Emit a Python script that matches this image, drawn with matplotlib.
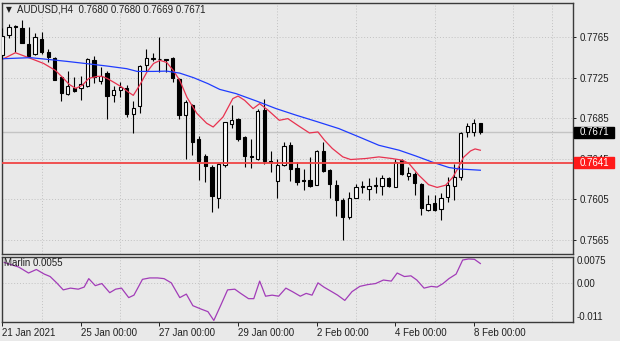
import numpy as np
import matplotlib.pyplot as plt
from matplotlib.patches import Rectangle

plt.rcParams['font.family'] = ['Liberation Sans', 'DejaVu Sans']
plt.rcParams['font.size'] = 7

# AUDUSD H4 candles, 21 Jan 2021 00:00 .. 8 Feb 2021 04:00
opens = [0.7748, 0.7767, 0.7776, 0.7774, 0.7759, 0.7749, 0.7763, 0.7751, 0.7745, 0.7726,
         0.7709, 0.7715, 0.7715, 0.7717, 0.7743, 0.7722, 0.7730, 0.7708, 0.7713, 0.7715,
         0.7689, 0.7697, 0.7738, 0.7744, 0.7744, 0.7744, 0.7745, 0.7724, 0.7688, 0.7698,
         0.7665, 0.7648, 0.7637, 0.7606, 0.7639, 0.7679, 0.7684, 0.7666, 0.7648, 0.7645,
         0.7693, 0.7643, 0.7623, 0.7639, 0.7659, 0.7636, 0.7624, 0.7624, 0.7619, 0.7653,
         0.7634, 0.7619, 0.7604, 0.7587, 0.7606, 0.7617, 0.7615, 0.7618, 0.7618, 0.7626,
         0.7617, 0.7644, 0.7628, 0.7630, 0.7620, 0.7594, 0.7601, 0.7595, 0.7607, 0.7618,
         0.7627, 0.7671, 0.7671, 0.7680]
highs = [0.7774, 0.7778, 0.7777, 0.7782, 0.7775, 0.7769, 0.7770, 0.7754, 0.7746, 0.7726,
         0.7732, 0.7726, 0.7727, 0.7745, 0.7747, 0.7736, 0.7732, 0.7717, 0.7721, 0.7718,
         0.7702, 0.7738, 0.7754, 0.7750, 0.7765, 0.7744, 0.7746, 0.7725, 0.7703, 0.7699,
         0.7667, 0.7650, 0.7639, 0.7641, 0.7681, 0.7698, 0.7685, 0.7667, 0.7665, 0.7694,
         0.7704, 0.7653, 0.7645, 0.7662, 0.7662, 0.7642, 0.7635, 0.7647, 0.7654, 0.7662,
         0.7635, 0.7624, 0.7606, 0.7612, 0.7620, 0.7623, 0.7626, 0.7627, 0.7629, 0.7627,
         0.7645, 0.7645, 0.7637, 0.7632, 0.7621, 0.7609, 0.7609, 0.7611, 0.7627, 0.7640,
         0.7671, 0.7680, 0.7684, 0.7680]
lows = [0.7744, 0.7764, 0.7751, 0.7760, 0.7746, 0.7748, 0.7749, 0.7741, 0.7723, 0.7702,
        0.7708, 0.7711, 0.7703, 0.7716, 0.7720, 0.7719, 0.7684, 0.7701, 0.7706, 0.7686,
        0.7670, 0.7690, 0.7732, 0.7742, 0.7731, 0.7731, 0.7721, 0.7684, 0.7645, 0.7649,
        0.7624, 0.7622, 0.7592, 0.7596, 0.7637, 0.7675, 0.7663, 0.7637, 0.7636, 0.7644,
        0.7640, 0.7632, 0.7606, 0.7638, 0.7623, 0.7619, 0.7614, 0.7617, 0.7619, 0.7632,
        0.7606, 0.7588, 0.7565, 0.7585, 0.7606, 0.7611, 0.7604, 0.7611, 0.7609, 0.7617,
        0.7617, 0.7629, 0.7624, 0.7609, 0.7589, 0.7593, 0.7593, 0.7584, 0.7602, 0.7604,
        0.7624, 0.7666, 0.7667, 0.7669]
closes = [0.7766, 0.7775, 0.7775, 0.7760, 0.7747, 0.7765, 0.7751, 0.7746, 0.7723, 0.7710,
          0.7717, 0.7712, 0.7719, 0.7744, 0.7726, 0.7727, 0.7707, 0.7713, 0.7716, 0.7689,
          0.7695, 0.7737, 0.7745, 0.7745, 0.7744, 0.7743, 0.7725, 0.7688, 0.7701, 0.7662,
          0.7643, 0.7638, 0.7608, 0.7640, 0.7681, 0.7683, 0.7665, 0.7648, 0.7647, 0.7692,
          0.7643, 0.7642, 0.7639, 0.7658, 0.7635, 0.7622, 0.7623, 0.7618, 0.7653, 0.7633,
          0.7620, 0.7604, 0.7587, 0.7606, 0.7617, 0.7618, 0.7618, 0.7619, 0.7626, 0.7618,
          0.7642, 0.7630, 0.7631, 0.7621, 0.7596, 0.7600, 0.7594, 0.7606, 0.7619, 0.7627,
          0.7670, 0.7677, 0.7680, 0.7671]

# moving averages (bar position, price)
ma_fast_bar = [0.2, 2.0, 4.3, 6.3, 8.1, 9.2, 10.2, 11.2, 12.2, 13.2, 14.5, 15.2, 16.0, 17.3,
               18.3, 19.3, 20.0, 21.0, 22.1, 23.1, 24.1, 25.1, 26.1, 27.1, 28.2, 29.7, 31.2,
               32.2, 33.7, 35.2, 36.0, 37.0, 38.3, 39.3, 40.6, 42.3, 43.6, 45.1, 46.9, 48.2,
               49.2, 50.4, 52.0, 53.2, 55.5, 57.5, 59.5, 61.1, 62.1, 63.6, 65.1, 66.4, 67.7,
               68.8, 69.7, 70.4, 71.5, 72.2, 73.0]
ma_fast_val = [0.77440, 0.77499, 0.77443, 0.77393, 0.77324, 0.77255, 0.77186, 0.77146,
               0.77176, 0.77245, 0.77265, 0.77265, 0.77245, 0.77196, 0.77156, 0.77107,
               0.77077, 0.77180, 0.77310, 0.77393, 0.77423, 0.77403, 0.77324, 0.77225,
               0.77057, 0.76899, 0.76801, 0.76764, 0.76863, 0.77045, 0.77070, 0.77028,
               0.76946, 0.76995, 0.76929, 0.76830, 0.76847, 0.76781, 0.76705, 0.76715,
               0.76633, 0.76551, 0.76468, 0.76442, 0.76452, 0.76468, 0.76452, 0.76435,
               0.76403, 0.76287, 0.76193, 0.76166, 0.76188, 0.76267, 0.76369, 0.76462,
               0.76527, 0.76547, 0.76534]
ma_slow_bar = [0.2, 4.3, 7.4, 9.9, 13.0, 16.0, 19.0, 20.6, 23.1, 25.1, 27.1, 29.2, 31.4, 33.2,
               35.7, 38.8, 41.8, 44.9, 47.9, 51.4, 54.5, 57.5, 60.6, 63.1, 65.6, 68.2, 69.7,
               73.0]
ma_slow_val = [0.77440, 0.77450, 0.77430, 0.77413, 0.77390, 0.77367, 0.77341, 0.77314,
               0.77314, 0.77317, 0.77297, 0.77252, 0.77193, 0.77136, 0.77094, 0.77021,
               0.76946, 0.76880, 0.76820, 0.76748, 0.76665, 0.76583, 0.76534, 0.76478,
               0.76418, 0.76363, 0.76349, 0.76336]

# Marlin oscillator
marlin_bar = [0.3, 2.5, 4.0, 5.2, 6.4, 7.3, 8.3, 9.3, 10.4, 11.6, 12.5, 13.2, 14.2, 15.2,
              16.4, 17.3, 18.2, 19.3, 20.1, 21.4, 22.5, 23.7, 24.7, 25.8, 27.1, 28.1, 29.1,
              30.4, 31.4, 32.3, 33.4, 34.4, 35.5, 36.4, 37.6, 38.4, 39.3, 40.2, 41.2, 42.2,
              43.3, 44.3, 45.5, 46.4, 47.3, 48.2, 49.1, 50.3, 51.2, 52.3, 53.4, 54.6, 55.8,
              57.0, 58.2, 59.4, 60.3, 61.4, 62.4, 63.3, 64.4, 65.5, 66.4, 67.3, 68.2, 69.3,
              70.3, 71.2, 72.1, 73.0]
marlin_val = [0.0058, 0.0045, 0.0028, 0.0038, 0.0025, 0.0018, 0.0, -0.0020, -0.0015, -0.0018,
              -0.0012, 0.0012, -0.0008, -0.0002, -0.0028, -0.0018, -0.0015, -0.0042, -0.0035, 0.0010,
              0.0014, 0.0014, 0.0012, 0.0, -0.0042, -0.0032, -0.0065, -0.0075, -0.0082, -0.0107,
              -0.0062, -0.0020, -0.0018, -0.0030, -0.0045, -0.0045, 0.0005, -0.0038, -0.0035, -0.0038,
              -0.0015, -0.0025, -0.0038, -0.0030, -0.0035, 0.0, -0.0012, -0.0025, -0.0035, -0.0050,
              -0.0025, -0.0010, -0.0005, -0.0002, 0.0008, 0.0005, 0.0028, 0.0018, 0.0020, 0.0008,
              -0.0015, -0.0010, -0.0012, -0.0002, 0.0012, 0.0025, 0.0065, 0.0068, 0.0067, 0.0055]

price_ticks = [0.7565, 0.7605, 0.7645, 0.7685, 0.7725, 0.7765]
marlin_ticks = [-0.011, 0.0, 0.0075]
level = 0.7641
date_bars = [0, 12, 24, 36, 48, 60, 72]
date_labels = ['21 Jan 2021', '25 Jan 00:00', '27 Jan 00:00', '29 Jan 00:00',
               '2 Feb 00:00', '4 Feb 00:00', '8 Feb 00:00']

BG = '#e9e9e9'
W, H = 620, 341


def box(x0, y0, x1, y1):
    return [x0 / W, 1 - y1 / H, (x1 - x0) / W, (y1 - y0) / H]


fig = plt.figure(figsize=(6.2, 3.41), dpi=100, facecolor=BG)
ax = fig.add_axes(box(2, 2.5, 573, 254))
ax2 = fig.add_axes(box(2, 256.5, 573, 321.5), sharex=ax)

for a in (ax, ax2):
    a.set_facecolor(BG)
    for s in a.spines.values():
        s.set_color('#3a3a3a')
        s.set_linewidth(1.0)
    a.yaxis.tick_right()
    a.tick_params(axis='y', direction='out', length=2.2, width=0.7, pad=2.4,
                  colors='#202020', labelsize=7)
    a.set_xticks(np.arange(0, 90, 6), minor=True)
    a.grid(which='minor', axis='x', color='#c2c2c2', lw=0.7, ls=(0, (1, 2)))
    a.tick_params(axis='x', which='minor', length=0)

x = np.arange(len(opens))
o = np.array(opens)
c = np.array(closes)
up = c >= o

# candles
ax.vlines(x, lows, highs, color='black', lw=0.8, zorder=3)
ax.bar(x, np.abs(c - o), bottom=np.minimum(o, c), width=0.5,
       color=np.where(up, 'white', 'black'), edgecolor='black', linewidth=0.8, zorder=4)

ax.plot(ma_fast_bar, ma_fast_val, color='#e8324f', lw=0.9, zorder=5)
ax.plot(ma_slow_bar, ma_slow_val, color='#1f3cff', lw=0.9, zorder=5)
ax.axhline(closes[-1], color='#c4c4c4', lw=1.0, zorder=1)
ax.axhline(level, color='#f04444', lw=1.3, zorder=6)

ax.set_xlim(-0.05, 87.15)
ax.set_ylim(0.75507, 0.77996)
ax.set_yticks(price_ticks)
ax.set_yticklabels([f'{p:.4f}' for p in price_ticks])
ax.grid(which='major', axis='y', color='#c2c2c2', lw=0.7, ls=(0, (1, 2)))
ax.tick_params(axis='x', which='both', bottom=False, labelbottom=False)

# price boxes on the scale
ytr = ax.get_yaxis_transform()
for val, col in ((closes[-1], 'black'), (level, '#ff1a1a')):
    ax.add_patch(Rectangle((1.0023, val - 0.00054), 0.070, 0.00108, transform=ytr,
                           facecolor=col, edgecolor=col, clip_on=False, zorder=10))
    ax.text(1.0123, val, f'{val:.4f}', transform=ytr, color='white', va='center',
            ha='left', fontsize=7, clip_on=False, zorder=11)

fig.text(6 / W, 1 - 10 / H, '\u25bc', family='DejaVu Sans', fontsize=5.5,
         va='center', color='#202020')
fig.text(17 / W, 1 - 10 / H,
         f'AUDUSD,H4  {opens[-1]:.4f} {highs[-1]:.4f} {lows[-1]:.4f} {closes[-1]:.4f}',
         va='center', color='#202020', fontsize=7)

# oscillator panel
ax2.plot(marlin_bar, marlin_val, color='#a23cb8', lw=0.9)
ax2.set_ylim(-0.011, 0.0075)
ax2.set_yticks(marlin_ticks)
ax2.set_yticklabels(['-0.011', '0.00', '0.0075'])
ax2.grid(which='major', axis='y', color='#c2c2c2', lw=0.7, ls=(0, (1, 2)))
labs = ax2.get_yticklabels()
labs[0].set_verticalalignment('bottom')
labs[2].set_verticalalignment('top')
ax2.tick_params(axis='y', length=0)
ax2.text(0.004, 0.90, f'Marlin {marlin_val[-1]:.4f}', transform=ax2.transAxes,
         va='center', ha='left', color='#202020', fontsize=7)

ax2.set_xticks(date_bars)
ax2.set_xticklabels(date_labels, ha='left')
ax2.tick_params(axis='x', which='major', direction='out', length=3, width=0.7,
                pad=2, colors='#202020', labelsize=7)

fig.savefig('out.png', dpi=100, facecolor=BG)
